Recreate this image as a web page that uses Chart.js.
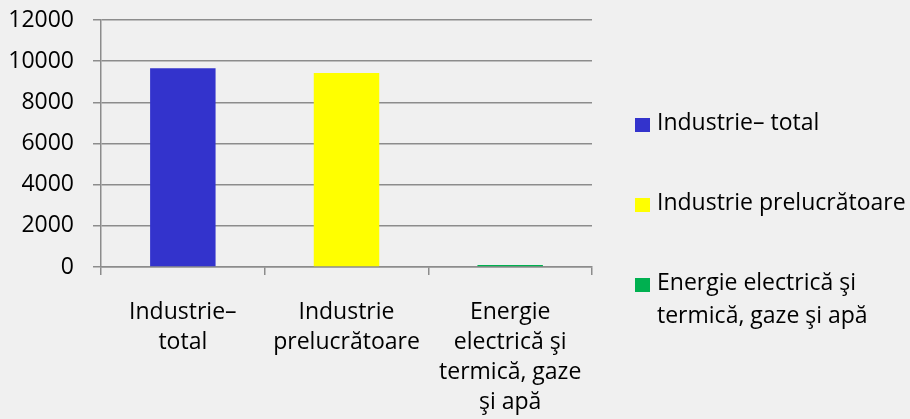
<!DOCTYPE html>
<html>
<head>
<meta charset="utf-8">
<script src="https://cdn.jsdelivr.net/npm/chart.js@4"></script>
<style>
    html, body { margin: 0; padding: 0; background: #f0f0f0; }
    #wrap { width: 910px; height: 419px; position: relative; }
</style>
</head>
<body>
<div id="wrap"><canvas id="chart"></canvas></div>
<script>
// ================= DATA =================

const categories = [
    ['Industrie–', 'total'],
    ['Industrie', 'prelucrătoare'],
    ['Energie', 'electrică şi', 'termică, gaze', 'şi apă']
];
const legendLabels = [
    ['Industrie– total'],
    ['Industrie prelucrătoare'],
    ['Energie electrică şi', 'termică, gaze şi apă']
];
const values = [9660, 9430, 100];
const barColors = ['#3333cc', '#ffff00', '#00b050'];
const yTicks = [0, 2000, 4000, 6000, 8000, 10000, 12000];

const FONT = '"Open Sans", sans-serif';
const GRID = '#8c8c8c';

// ================= LEGEND (right side) =================

const sideLegend = {
    id: 'sideLegend',
    afterDraw(chart) {
        const ctx = chart.ctx;
        const itemY = [125, 205, 285];
        ctx.save();
        ctx.font = '23px ' + FONT;
        ctx.textBaseline = 'middle';
        legendLabels.forEach((lines, i) => {
            ctx.fillStyle = barColors[i];
            ctx.fillRect(635, itemY[i] - 7, 15, 14);
            ctx.fillStyle = '#000';
            lines.forEach((t, k) => ctx.fillText(t, 657, itemY[i] - 2 + k * 33));
        });
        ctx.restore();
    }
};

// ================= CHART =================

new Chart(document.getElementById('chart'), {
    type: 'bar',
    data: {
        labels: categories,
        datasets: [{
            data: values,
            backgroundColor: barColors,
            borderWidth: 0,
            barPercentage: 0.4,
            categoryPercentage: 1
        }]
    },
    options: {
        responsive: true,
        maintainAspectRatio: false,
        animation: false,
        layout: { padding: { top: 20, right: 318, left: 0, bottom: 0 } },
        plugins: {
            legend: { display: false },
            tooltip: { enabled: false }
        },
        scales: {
            x: {
                grid: {
                    drawOnChartArea: false,
                    drawTicks: true,
                    tickLength: 8,
                    color: GRID,
                    lineWidth: 1.5
                },
                border: { color: GRID, width: 1.5 },
                ticks: {
                    color: '#000',
                    padding: 23,
                    maxRotation: 0,
                    autoSkip: false,
                    font: { family: FONT, size: 23, lineHeight: 1.3 }
                },
                afterFit(scale) { scale.height = 152; }
            },
            y: {
                min: 0,
                max: 12000,
                afterBuildTicks(scale) { scale.ticks = yTicks.map(v => ({ value: v })); },
                grid: {
                    color: GRID,
                    lineWidth: 1.5,
                    drawTicks: true,
                    tickLength: 8
                },
                border: { color: GRID, width: 1.5 },
                ticks: {
                    color: '#000',
                    padding: 19,
                    font: { family: FONT, size: 23 },
                    callback: v => String(v)
                },
                afterFit(scale) {
                    scale.width = 101;
                    scale.paddingTop = 0;
                    scale.paddingBottom = 0;
                }
            }
        }
    },
    plugins: [sideLegend]
});
</script>
</body>
</html>
